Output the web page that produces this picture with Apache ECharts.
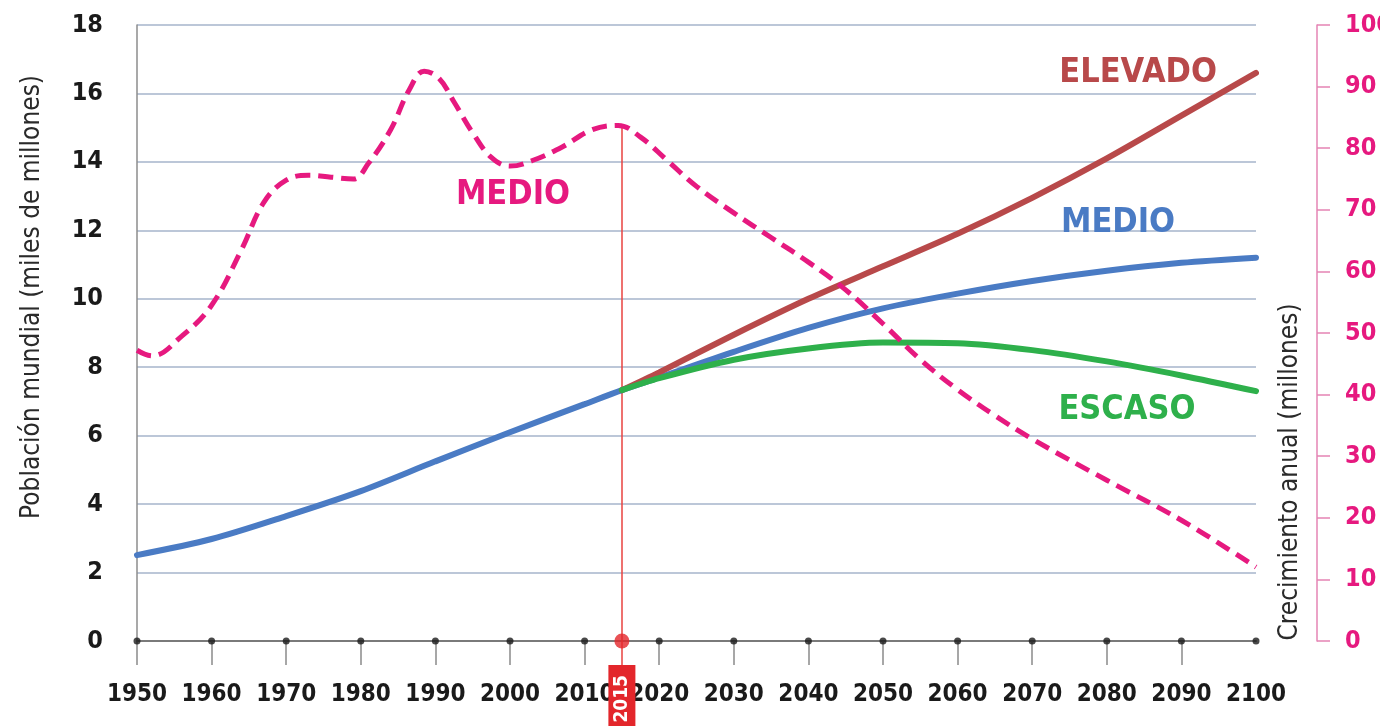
<!DOCTYPE html>
<html><head><meta charset="utf-8">
<script src="https://cdn.jsdelivr.net/npm/echarts@6/dist/echarts.min.js"></script>
<style>html,body{margin:0;padding:0;background:#fff}#c{width:1380px;height:726px}</style>
</head><body><div id="c"></div>
<script>
const FONT = "'Liberation Sans Narrow','DejaVu Sans Condensed','Roboto',sans-serif";

// Población mundial (miles de millones)
const medioYears  = [1950,1960,1970,1980,1990,2000,2010,2015,2020,2030,2040,2050,2060,2070,2080,2090,2100];
const medioValues = [2.51,2.98,3.65,4.38,5.25,6.10,6.92,7.33,7.70,8.45,9.15,9.72,10.15,10.52,10.82,11.05,11.20];
const projYears     = [2015,2020,2030,2040,2050,2060,2070,2080,2090,2100];
const elevadoValues = [7.33,7.85,8.95,10.00,10.95,11.90,12.95,14.10,15.35,16.60];
const escasoValues  = [7.33,7.68,8.22,8.55,8.72,8.70,8.50,8.17,7.76,7.30];

// Crecimiento anual (millones)
const growthYears  = [1950,1952,1956,1960,1964,1967,1970,1973,1976,1979,1981,1984,1986.5,1988.5,1990.5,1992.5,1995,1997.5,2000,2003,2007,2011,2014.5,2017.5,2021,2025,2030,2035,2040,2045,2050,2055,2060,2065,2070,2080,2090,2100];
const growthValues = [47.2,46.3,49.5,54.5,63.5,71.2,74.8,75.6,75.3,75.0,77.5,83.0,89.5,92.5,91.3,87.5,82.5,78.5,77.1,78.0,80.2,83.0,83.7,81.8,78.1,73.8,69.5,65.5,61.5,57.0,51.5,45.7,40.8,36.6,32.8,26.1,19.6,12.0];

const decadeYears = [1950,1960,1970,1980,1990,2000,2010,2020,2030,2040,2050,2060,2070,2080,2090,2100];
const tickYears = decadeYears.slice(0, -1);
const markerYear = 2015;
const markerGrowth = 83.8;

const scenarioLabels = { elevado: 'ELEVADO', medio: 'MEDIO', escaso: 'ESCASO', crecimiento: 'MEDIO' };
const leftName = 'Población mundial (miles de millones)';
const rightName = 'Crecimiento anual (millones)';

const C = { blue:'#4a7bc4', red:'#b8494a', green:'#2eb04b', pink:'#e6197f', grid:'#bcc7d8' };

const pair = (xs, ys) => xs.map((x, i) => [x, ys[i]]);
const plain = v => String(v);
function textMark(coord, text, color, size) {
  return {
    symbol: 'rect', symbolSize: 1, silent: true,
    itemStyle: { color: 'rgba(0,0,0,0)' },
    label: { show: true, position: 'inside', formatter: text, color: color,
             fontFamily: FONT, fontWeight: 'bold', fontSize: size },
    data: [{ coord: coord }]
  };
}

const chart = echarts.init(document.getElementById('c'), null, { renderer: 'canvas' });
chart.setOption({
  animation: false,
  backgroundColor: '#fff',
  grid: { left: 137, right: 124, top: 25, bottom: 85, containLabel: false, outerBoundsMode: 'none' },
  xAxis: [{
    type: 'value', min: 1950, max: 2100,
    axisLine: { show: true, lineStyle: { color: '#7a7a7a', width: 2 } },
    axisTick: { show: true, customValues: tickYears, length: 24, lineStyle: { color: '#8a8a8a', width: 1.5 } },
    axisLabel: { customValues: decadeYears, formatter: plain, showMinLabel: true, showMaxLabel: true, hideOverlap: false,
                 fontFamily: FONT, fontSize: 24, fontWeight: 'bold', color: '#1a1a1a', margin: 42 },
    splitLine: { show: false }
  }, {
    type: 'value', min: 1950, max: 2100, position: 'bottom',
    axisLine: { show: false },
    axisTick: { show: true, customValues: [markerYear], length: 24, lineStyle: { color: '#e8423f', width: 1.5 } },
    axisLabel: { customValues: [markerYear], formatter: plain, rotate: 90, color: '#fff', backgroundColor: '#e3262b',
                 padding: [4, 10, 4, 10], fontFamily: FONT, fontSize: 19, fontWeight: 'bold', margin: 24 },
    splitLine: { show: false }
  }],
  yAxis: [{
    type: 'value', min: 0, max: 18, interval: 2,
    axisLine: { show: true, lineStyle: { color: '#8c8c8c', width: 1.5 } },
    axisTick: { show: false },
    axisLabel: { formatter: plain, fontFamily: FONT, fontSize: 25, fontWeight: 'bold', color: '#1a1a1a', margin: 34 },
    splitLine: { show: true, lineStyle: { color: C.grid, width: 2 } }
  }, {
    type: 'value', min: 0, max: 100, interval: 10, position: 'right', offset: 61,
    axisLine: { show: true, lineStyle: { color: '#e584b4', width: 1.5 } },
    axisTick: { show: true, length: 13, lineStyle: { color: '#e584b4', width: 1.5 } },
    axisLabel: { formatter: plain, fontFamily: FONT, fontSize: 25, fontWeight: 'bold', color: C.pink, margin: 28 },
    splitLine: { show: false }
  }],
  graphic: [{
    type: 'text', x: 32, y: 297, rotation: Math.PI / 2,
    style: { text: leftName, fontFamily: FONT, fontSize: 26, fill: '#2a2a2a', align: 'center', verticalAlign: 'middle' }
  }, {
    type: 'text', x: 1290, y: 472, rotation: Math.PI / 2,
    style: { text: rightName, fontFamily: FONT, fontSize: 26, fill: '#2a2a2a', align: 'center', verticalAlign: 'middle' }
  }],
  series: [{
    name: 'Medio', type: 'line', data: pair(medioYears, medioValues), smooth: 0.3, symbol: 'none', clip: false,
    lineStyle: { color: C.blue, width: 6, cap: 'round' }, z: 3,
    markPoint: textMark([2081.5, 12.2], scenarioLabels.medio, C.blue, 34)
  }, {
    name: 'Elevado', type: 'line', data: pair(projYears, elevadoValues), smooth: 0.3, symbol: 'none', clip: false,
    lineStyle: { color: C.red, width: 6, cap: 'round' }, z: 4,
    markPoint: textMark([2084.2, 16.58], scenarioLabels.elevado, C.red, 34)
  }, {
    name: 'Escaso', type: 'line', data: pair(projYears, escasoValues), smooth: 0.3, symbol: 'none', clip: false,
    lineStyle: { color: C.green, width: 6, cap: 'round' }, z: 5,
    markPoint: textMark([2082.7, 6.75], scenarioLabels.escaso, C.green, 34)
  }, {
    name: 'Crecimiento', type: 'line', yAxisIndex: 1, data: pair(growthYears, growthValues), smooth: 0.4,
    symbol: 'none', clip: false, z: 6,
    lineStyle: { color: C.pink, width: 5, type: [15, 8] },
    markPoint: textMark([2000.4, 72.4], scenarioLabels.crecimiento, C.pink, 34),
    markLine: {
      silent: true, symbol: ['none', 'none'], label: { show: false }, z: 1,
      lineStyle: { color: '#e8423f', width: 1.5, type: 'solid', opacity: 1 },
      data: [[{ coord: [markerYear, markerGrowth] }, { coord: [markerYear, 0] }]]
    }
  }, {
    type: 'scatter', data: decadeYears.map(y => [y, 0]), symbolSize: 7, z: 10,
    itemStyle: { color: '#1a1a1a' }, silent: true
  }, {
    type: 'scatter', data: [[markerYear, 0]], symbolSize: 15, z: 11,
    itemStyle: { color: '#e3262b' }, silent: true
  }]
});
</script>
</body></html>
